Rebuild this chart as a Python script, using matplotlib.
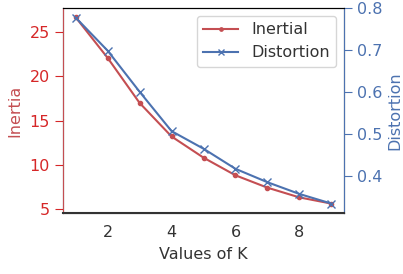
import matplotlib
matplotlib.use('Agg')
from matplotlib import pyplot as plt

# values of K and the two elbow curves
k_values = [1, 2, 3, 4, 5, 6, 7, 8, 9]
inertia = [26.7, 22.1, 17.0, 13.2, 10.8, 8.8, 7.4, 6.3, 5.6]
distortion = [0.777, 0.698, 0.600, 0.506, 0.464, 0.416, 0.384, 0.356, 0.333]

red = '#C44E52'
blue = '#4C72B0'

plt.rcParams['font.family'] = 'DejaVu Sans'
plt.rcParams['font.size'] = 11.5

fig = plt.figure(figsize=(4.03, 2.74), dpi=100)
ax1 = fig.add_axes([0.156, 0.223, 0.698, 0.748])
ax2 = ax1.twinx()

l1, = ax1.plot(k_values, inertia, color=red, marker='.', markersize=6, label='Inertial')
l2, = ax2.plot(k_values, distortion, color=blue, marker='x', markersize=6, label='Distortion')

ax1.set_xlabel('Values of K', color='#333333', labelpad=5)
ax1.set_ylabel('Inertia', color=red, labelpad=5)
ax2.set_ylabel('Distortion', color=blue, labelpad=3)

ax1.tick_params(axis='y', colors='#d62728', length=6)
ax1.tick_params(axis='x', colors='#333333', length=0, pad=9)
ax2.tick_params(axis='y', colors=blue, length=6)

ax1.set_xticks([2, 4, 6, 8])
ax1.set_yticks([5, 10, 15, 20, 25])
ax2.set_yticks([0.4, 0.5, 0.6, 0.7, 0.8])

ax2.spines['left'].set_color(red)
ax2.spines['right'].set_color(blue)
ax2.spines['top'].set_color('black')
ax2.spines['bottom'].set_color('#333333')
ax2.spines['bottom'].set_linewidth(1.5)

ax1.legend([l1, l2], ['Inertial', 'Distortion'], loc='upper right',
           fontsize=11.5, handlelength=2.2, markerscale=0.8, labelcolor='#333333')

fig.savefig('out.png', dpi=100)
